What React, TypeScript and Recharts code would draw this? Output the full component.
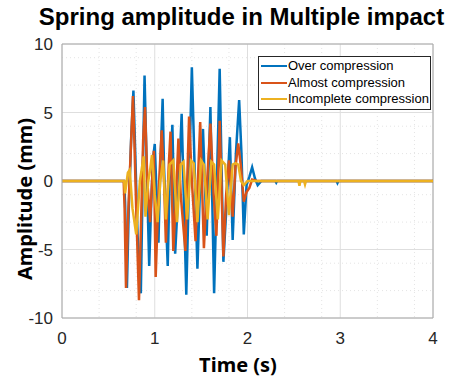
import React from "react";
import {
  LineChart,
  Line,
  XAxis,
  YAxis,
  CartesianGrid,
  ReferenceLine,
  Legend,
} from "recharts";

// time (s) / amplitude (mm) pairs
const overT = [0, 0.67, 0.68, 0.7, 0.72, 0.745, 0.77, 0.79, 0.815, 0.85, 0.87, 0.89, 0.91, 0.94, 0.96, 0.98, 1.0, 1.02, 1.04, 1.06, 1.085, 1.1, 1.14, 1.16, 1.19, 1.22, 1.26, 1.29, 1.34, 1.37, 1.4, 1.46, 1.49, 1.52, 1.56, 1.6, 1.64, 1.67, 1.7, 1.74, 1.78, 1.81, 1.84, 1.875, 1.91, 1.935, 1.96, 1.99, 2.02, 2.05, 2.08, 2.11, 2.15, 2.3, 2.31, 2.32, 2.96, 2.97, 2.98, 4];
const overV = [0, 0, -1.5, -7.8, -2, 3, 6.6, 2, -4, -8.2, 0, 7.7, 2, -6.2, -2, 1.5, 2.7, -1, -4.5, 1, 6.0, 1, -6.2, 0, 4.1, -5.3, 0, 4.9, -8.3, 0, 8.3, -6.4, 0, 3.8, -4, 5.4, -8.2, 0, 8.2, -5.9, -1, 3.2, -4.3, 2, 5.9, 2, -3.9, -0.3, 0.3, 1.0, 0.2, -0.3, 0, 0, -0.12, 0, 0, -0.15, 0, 0];

const almostT = [0, 0.665, 0.675, 0.69, 0.71, 0.74, 0.765, 0.78, 0.8, 0.83, 0.86, 0.875, 0.895, 0.92, 0.95, 0.975, 0.99, 1.01, 1.04, 1.075, 1.1, 1.12, 1.15, 1.17, 1.2, 1.23, 1.255, 1.28, 1.33, 1.35, 1.37, 1.4, 1.44, 1.465, 1.49, 1.53, 1.565, 1.6, 1.635, 1.665, 1.7, 1.74, 1.77, 1.8, 1.84, 1.87, 1.9, 1.93, 1.96, 1.99, 2.02, 2.05, 2.1, 4];
const almostV = [0, 0, -2, -7.8, -3, 2, 6.2, 3, -2, -8.7, -1, 3, 5.4, 0, -3, 0.5, 2.2, -7.0, -1, 3.7, 0, -4.5, 1, 3.6, -5.1, -1, 3.1, -1, -5.1, 0, 4.7, 0, -4.4, 0, 4.3, -4.9, 0, 4.2, -1, -4, 4.4, -5.5, -1, 1.5, -2.6, 1, 2.75, 1, -1.5, -0.8, -0.5, 0.1, 0, 0];

const incompleteT = [0, 0.67, 0.68, 0.71, 0.73, 0.76, 0.8, 0.84, 0.88, 0.9, 0.93, 0.95, 0.97, 1.0, 1.03, 1.06, 1.09, 1.12, 1.16, 1.2, 1.24, 1.28, 1.31, 1.35, 1.39, 1.42, 1.46, 1.5, 1.53, 1.57, 1.61, 1.64, 1.68, 1.72, 1.76, 1.8, 1.84, 1.87, 1.9, 1.93, 1.96, 2.0, 2.55, 2.56, 2.57, 2.61, 2.62, 2.63, 4];
const incompleteV = [0, 0, -0.9, 0.6, 0.8, -2, -3.9, 0, 1.8, -2.6, 0, 0.8, 1.9, -1, -3, 0, 1.5, -2.8, 1.2, 1.5, -3, 1.2, 1.4, -2.8, 1.5, 1.3, -3, 1.5, 1.2, -2.8, 1.4, 1.2, -2.8, 1.5, 1.2, -2.5, 1.2, 1.3, 1.2, 0, -0.3, 0, 0, -0.35, 0, 0, -0.25, 0, 0];

const seriesNames = ["Over compression", "Almost compression", "Incomplete compression"];
const seriesColors = ["#0072BD", "#D95319", "#EDB120"];

const xTicks = [0, 1, 2, 3, 4];
const yTicks = [-10, -5, 0, 5, 10];
const xMinor = [0.2, 0.4, 0.6, 0.8, 1.2, 1.4, 1.6, 1.8, 2.2, 2.4, 2.6, 2.8, 3.2, 3.4, 3.6, 3.8];
const yMinor = [-9, -8, -7, -6, -4, -3, -2, -1, 1, 2, 3, 4, 6, 7, 8, 9];

const toRows = (t: number[], v: number[]) => t.map((x, i) => ({ t: x, v: v[i] }));
const series = [toRows(overT, overV), toRows(almostT, almostV), toRows(incompleteT, incompleteV)];

const AXIS = "#a8a8a8";
const TICK = "#262626";

function LegendBox() {
  return (
    <div
      style={{
        border: "1px solid #262626",
        background: "#fff",
        padding: "1px 1px 1px 2px",
        fontFamily: "'Liberation Sans', Arial, sans-serif",
        fontSize: 13,
        color: "#000",
        lineHeight: "16.5px",
        whiteSpace: "nowrap",
      }}
    >
      {seriesNames.map((n, i) => (
        <div key={n} style={{ display: "flex", alignItems: "center" }}>
          <span
            style={{
              display: "inline-block",
              width: 26,
              height: 2,
              background: seriesColors[i],
              marginRight: 1,
            }}
          />
          {n}
        </div>
      ))}
    </div>
  );
}

export default function App() {
  return (
    <div style={{ position: "absolute", left: 0, top: 0, width: 459, height: 382, background: "#fff" }}>
      <div
        style={{
          position: "absolute",
          left: 0,
          width: 483,
          top: 3,
          textAlign: "center",
          fontFamily: "'Liberation Sans', Arial, sans-serif",
          fontWeight: "bold",
          fontSize: 24,
          color: "#000",
        }}
      >
        Spring amplitude in Multiple impact
      </div>
      <LineChart
        width={459}
        height={382}
        margin={{ top: 44, right: 26, bottom: 24, left: 0 }}
        style={{ position: "absolute", left: 0, top: 0 }}
      >
        <CartesianGrid
          stroke="#e4e4e4"
          strokeDasharray="1 3"
          verticalValues={xMinor}
          horizontalValues={yMinor}
        />
        <CartesianGrid stroke="#dedede" />
        <XAxis
          type="number"
          dataKey="t"
          domain={[0, 4]}
          ticks={xTicks}
          allowDataOverflow
          height={40}
          stroke={AXIS}
          tickLine={false}
          tickSize={6}
          tickMargin={8}
          tick={{ fill: TICK, fontSize: 17, fontFamily: "'Liberation Sans', Arial, sans-serif" }}
        />
        <YAxis
          type="number"
          domain={[-10, 10]}
          ticks={yTicks}
          allowDataOverflow
          width={62}
          stroke={AXIS}
          tickLine={false}
          tickSize={6}
          tickMargin={3}
          tick={{ fill: TICK, fontSize: 17, fontFamily: "'Liberation Sans', Arial, sans-serif" }}
        />
        <ReferenceLine y={10} stroke={AXIS} />
        <ReferenceLine x={4} stroke={AXIS} />
        {series.map((d, i) => (
          <Line
            key={seriesNames[i]}
            data={d}
            dataKey="v"
            name={seriesNames[i]}
            type="linear"
            stroke={seriesColors[i]}
            strokeWidth={2.5}
            dot={false}
            activeDot={false}
            isAnimationActive={false}
          />
        ))}
        <Legend
          layout="horizontal"
          verticalAlign="middle"
          align="center"
          content={() => <LegendBox />}
          wrapperStyle={{ left: 258, top: 56, width: "auto", height: "auto" }}
        />
      </LineChart>
      <div
        style={{
          position: "absolute",
          left: 238,
          top: 364,
          transform: "translate(-50%, -50%)",
          fontFamily: "'Noto Sans', sans-serif",
          fontWeight: "bold",
          fontSize: 20,
          color: "#000",
          whiteSpace: "nowrap",
        }}
      >
        Time (s)
      </div>
      <div
        style={{
          position: "absolute",
          left: 24,
          top: 199,
          transform: "translate(-50%, -50%) rotate(-90deg)",
          fontFamily: "'Noto Sans', sans-serif",
          fontWeight: "bold",
          fontSize: 20,
          color: "#000",
          whiteSpace: "nowrap",
        }}
      >
        Amplitude (mm)
      </div>
    </div>
  );
}
